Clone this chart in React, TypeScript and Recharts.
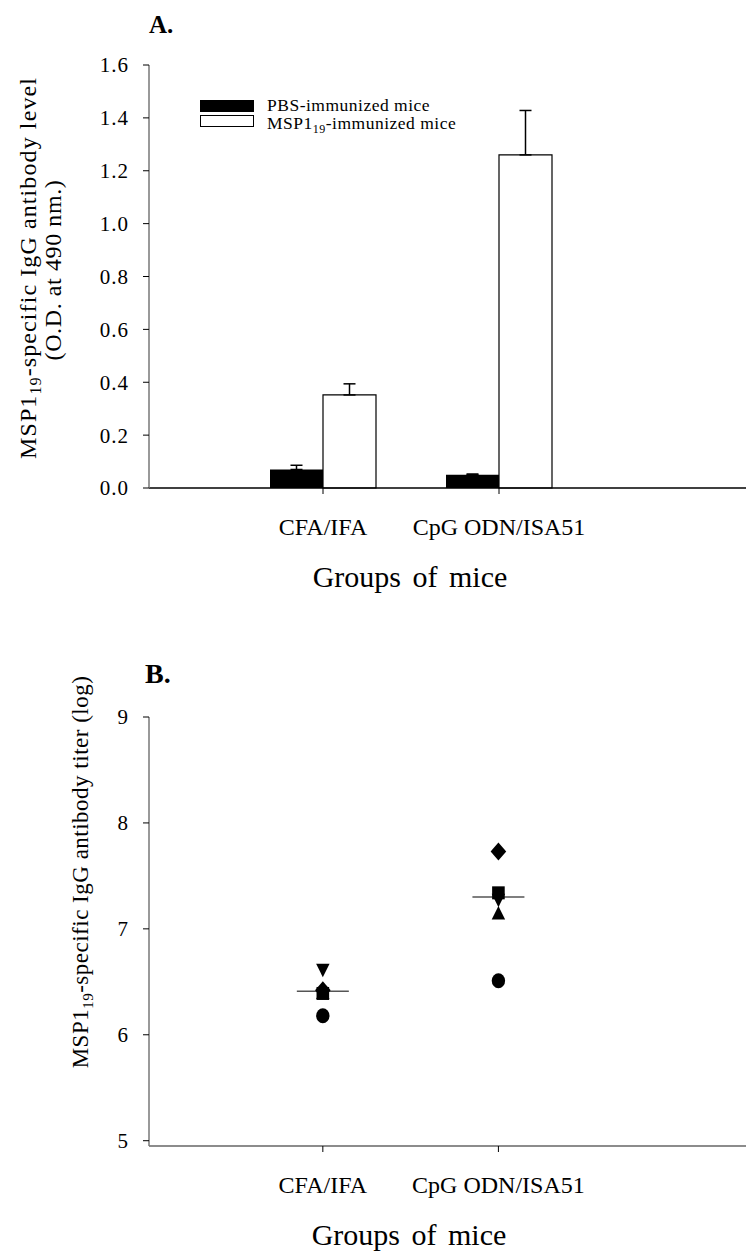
import React from 'react';
import {
  BarChart,
  Bar,
  XAxis,
  YAxis,
  ErrorBar,
  Legend,
  ScatterChart,
  Scatter,
  Label,
} from 'recharts';

const FONT = '"Liberation Serif", "Times New Roman", Times, serif';

// ---------- Panel A data ----------
const groups = ['CFA/IFA', 'CpG ODN/ISA51'];
const pbsMeans = [0.07, 0.05];
const pbsSem = [0.016, 0.003];
const mspMeans = [0.352, 1.26];
const mspSem = [0.042, 0.168];
const odTicks = [0, 0.2, 0.4, 0.6, 0.8, 1.0, 1.2, 1.4, 1.6];

// ---------- Panel B data ----------
const groupPositions = [1, 2];
const circleTiters = [6.18, 6.51];
const downTriangleTiters = [6.61, 7.27];
const upTriangleTiters = [6.4, 7.15];
const squareTiters = [6.39, 7.34];
const diamondTiters = [6.42, 7.73];
const meanTiters = [6.41, 7.3];
const titerTicks = [5, 6, 7, 8, 9];

const barData = groups.map((g, i) => ({
  group: g,
  pbs: pbsMeans[i],
  pbsErr: [0, pbsSem[i]],
  msp: mspMeans[i],
  mspErr: [0, mspSem[i]],
}));

const toPoints = (vals: number[]) => groupPositions.map((x, i) => ({ x, y: vals[i] }));

const tickStyle = { fontSize: 21, fill: '#000', fontFamily: FONT, letterSpacing: 1 };
const catTickStyle = { fontSize: 24, fill: '#000', fontFamily: FONT };

const LegendA = () => (
  <svg width={320} height={44} style={{ display: 'block', overflow: 'visible' }}>
    <rect x={0} y={2} width={54} height={12} fill="#000" />
    <text x={67} y={13} fontSize={17.5} fontFamily={FONT} fill="#000" letterSpacing={0.5}>
      PBS-immunized mice
    </text>
    <rect x={0.5} y={17.5} width={53} height={11} fill="#fff" stroke="#000" strokeWidth={1} />
    <text x={67} y={31} fontSize={17.5} fontFamily={FONT} fill="#000" letterSpacing={0.5}>
      MSP1
      <tspan fontSize={12} dy={4}>19</tspan>
      <tspan dy={-4}>-immunized mice</tspan>
    </text>
  </svg>
);

const YLabelA = () => (
  <g fontFamily={FONT} fill="#000">
    <text x={149} y={33} fontSize={25} fontWeight="bold">A.</text>
    <text
      x={0}
      y={0}
      fontSize={24}
      letterSpacing={1.1}
      textAnchor="middle"
      transform="translate(36, 268) rotate(-90)"
    >
      MSP1
      <tspan fontSize={16} dy={5}>19</tspan>
      <tspan dy={-5}>-specific IgG antibody level</tspan>
    </text>
    <text
      x={0}
      y={0}
      fontSize={24}
      letterSpacing={0.6}
      textAnchor="middle"
      transform="translate(61, 270) rotate(-90)"
    >
      (O.D. at 490 nm.)
    </text>
  </g>
);

const XLabelA = () => (
  <text x={410} y={587} fontSize={30} fontFamily={FONT} fill="#000" textAnchor="middle" wordSpacing={4}>
    Groups of mice
  </text>
);

const YLabelB = () => (
  <g fontFamily={FONT} fill="#000">
    <text x={145} y={63} fontSize={28} fontWeight="bold">B.</text>
    <text
      x={0}
      y={0}
      fontSize={23}
      letterSpacing={0.5}
      textAnchor="middle"
      transform="translate(88, 252) rotate(-90)"
    >
      MSP1
      <tspan fontSize={15} dy={5}>19</tspan>
      <tspan dy={-5}>-specific IgG antibody titer (log)</tspan>
    </text>
  </g>
);

const XLabelB = () => (
  <text x={409} y={625} fontSize={30} fontFamily={FONT} fill="#000" textAnchor="middle" wordSpacing={4}>
    Groups of mice
  </text>
);

const CircleShape = (p: any) => <ellipse cx={p.cx} cy={p.cy} rx={6.7} ry={7.5} fill="#000" />;
const DownTriangleShape = (p: any) => (
  <polygon
    points={`${p.cx - 6.7},${p.cy - 6.5} ${p.cx + 6.7},${p.cy - 6.5} ${p.cx},${p.cy + 7}`}
    fill="#000"
  />
);
const UpTriangleShape = (p: any) => (
  <polygon
    points={`${p.cx - 6.7},${p.cy + 6.5} ${p.cx + 6.7},${p.cy + 6.5} ${p.cx},${p.cy - 7}`}
    fill="#000"
  />
);
const SquareShape = (p: any) => (
  <rect x={p.cx - 6.3} y={p.cy - 6.5} width={12.6} height={13} fill="#000" />
);
const DiamondShape = (p: any) => (
  <polygon
    points={`${p.cx},${p.cy - 9} ${p.cx + 7.8},${p.cy} ${p.cx},${p.cy + 9} ${p.cx - 7.8},${p.cy}`}
    fill="#000"
  />
);
const MeanLineShape = (p: any) => (
  <line x1={p.cx - 26} x2={p.cx + 26} y1={p.cy} y2={p.cy} stroke="#555" strokeWidth={1.5} />
);

export default function App() {
  return (
    <div style={{ position: 'absolute', left: 0, top: 0, width: 746, height: 1255, background: '#fff' }}>
      <div style={{ position: 'absolute', left: 0, top: 0 }}>
        <BarChart
          width={746}
          height={620}
          data={barData}
          margin={{ top: 65, right: 0, bottom: 0, left: 0 }}
          barGap={0}
          barSize={53}
        >
          <XAxis
            dataKey="group"
            type="category"
            height={132}
            padding={{ left: 86, right: 159 }}
            axisLine={{ stroke: '#000', strokeWidth: 1.5 }}
            tickLine={{ stroke: '#000' }}
            tickSize={6}
            tickMargin={24}
            tick={catTickStyle}
            interval={0}
            label={<Label content={XLabelA} />}
          />
          <YAxis
            type="number"
            domain={[0, 1.6]}
            ticks={odTicks}
            tickFormatter={(v: number) => v.toFixed(1)}
            width={149}
            axisLine={{ stroke: '#777', strokeWidth: 1.5 }}
            tickLine={{ stroke: '#000' }}
            tickSize={6}
            tickMargin={14}
            tick={tickStyle}
            interval={0}
            label={<Label content={YLabelA} />}
          />
          <Legend
            layout="vertical"
            align="center"
            verticalAlign="middle"
            content={LegendA}
            wrapperStyle={{ left: 200, top: 98, width: 320, height: 44 }}
          />
          <Bar dataKey="pbs" name="PBS-immunized mice" fill="#000" isAnimationActive={false}>
            <ErrorBar dataKey="pbsErr" width={6} stroke="#000" strokeWidth={1.5} direction="y" />
          </Bar>
          <Bar
            dataKey="msp"
            name="MSP1-19-immunized mice"
            fill="#fff"
            stroke="#000"
            strokeWidth={1.2}
            isAnimationActive={false}
          >
            <ErrorBar dataKey="mspErr" width={6} stroke="#000" strokeWidth={1.5} direction="y" />
          </Bar>
        </BarChart>
      </div>
      <div style={{ position: 'absolute', left: 0, top: 620 }}>
        <ScatterChart width={746} height={635} margin={{ top: 97, right: 0, bottom: 0, left: 0 }}>
          <XAxis
            dataKey="x"
            type="number"
            domain={[0.01, 3.41]}
            ticks={groupPositions}
            tickFormatter={(v: number) => groups[v - 1] ?? ''}
            height={109}
            axisLine={{ stroke: '#666', strokeWidth: 1.5 }}
            tickLine={{ stroke: '#000' }}
            tickSize={6}
            tickMargin={24}
            tick={catTickStyle}
            interval={0}
            label={<Label content={XLabelB} />}
          />
          <YAxis
            dataKey="y"
            type="number"
            domain={[4.95, 9]}
            ticks={titerTicks}
            width={149}
            axisLine={{ stroke: '#777', strokeWidth: 1.5 }}
            tickLine={{ stroke: '#000' }}
            tickSize={6}
            tickMargin={14}
            tick={tickStyle}
            interval={0}
            label={<Label content={YLabelB} />}
          />
          <Scatter data={toPoints(meanTiters)} shape={MeanLineShape} isAnimationActive={false} />
          <Scatter data={toPoints(circleTiters)} shape={CircleShape} isAnimationActive={false} />
          <Scatter data={toPoints(downTriangleTiters)} shape={DownTriangleShape} isAnimationActive={false} />
          <Scatter data={toPoints(upTriangleTiters)} shape={UpTriangleShape} isAnimationActive={false} />
          <Scatter data={toPoints(squareTiters)} shape={SquareShape} isAnimationActive={false} />
          <Scatter data={toPoints(diamondTiters)} shape={DiamondShape} isAnimationActive={false} />
        </ScatterChart>
      </div>
    </div>
  );
}
